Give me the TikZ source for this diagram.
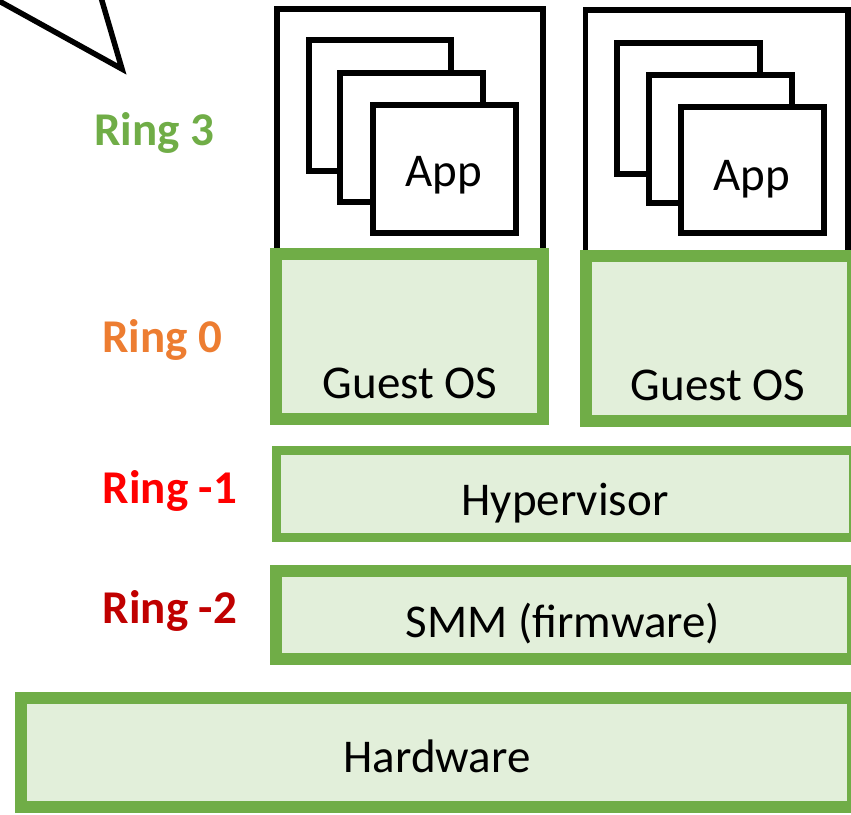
\documentclass[tikz,border=0pt]{standalone}
\usepackage{fontspec}
\setmainfont{Carlito}
\definecolor{ggreen}{HTML}{70AD47}
\definecolor{gfill}{HTML}{E2EFDA}
\definecolor{rorange}{HTML}{ED7D31}
\definecolor{rred}{HTML}{FF0000}
\definecolor{rdred}{HTML}{C00000}
\begin{document}
\begin{tikzpicture}[x=1pt,y=-1pt,
  greenbox/.style={draw=ggreen,fill=gfill,line width=12pt},
  vmbox/.style={draw=black,fill=white,line width=5.5pt},
  appbox/.style={draw=black,fill=white,line width=5.5pt},
  lbl/.style={font=\fontsize{47}{54}\selectfont,anchor=base,inner sep=0pt},
  ring/.style={font=\fontsize{47}{54}\selectfont\bfseries,anchor=base,inner sep=0pt}]
\useasboundingbox (0,0) rectangle (851,814);
\clip (0,0) rectangle (851,814);
% callout tip
\coordinate (c1) at (-10,-4);
\coordinate (tip) at (122,69);
\coordinate (c2) at (100,-6);
\draw[line width=5.5pt,miter limit=10] (c1) -- (tip) -- (c2);
% VM 1
\draw[vmbox] (277,9) rectangle (543,262);
\draw[appbox] (309,40) rectangle (451,171);
\draw[appbox] (340,73) rectangle (483,202);
\draw[appbox] (373,105) rectangle (516,233);
\node[lbl] (app1) at (444,186) {App};
% VM 2
\draw[vmbox] (585.5,10) rectangle (848,262);
\draw[appbox] (617,43) rectangle (760,174);
\draw[appbox] (649,75) rectangle (792,203);
\draw[appbox] (681,107) rectangle (824,233);
\node[lbl] (app2) at (752,190) {App};
% Guest OS
\draw[greenbox] (276,254) rectangle (543,419);
\node[lbl] (gos1) at (410,398) {Guest OS};
\draw[greenbox] (586,256) rectangle (853,421);
\node[lbl] (gos2) at (718,400) {Guest OS};
% Hypervisor
\draw[greenbox,line width=9pt] (276.5,450.5) rectangle (853,537.5);
\node[lbl] (hyp) at (565,515) {Hypervisor};
% SMM
\draw[greenbox] (276,571) rectangle (853,659);
\node[lbl] (smm) at (563,637) {SMM (firmware)};
% Hardware
\draw[greenbox] (21,698) rectangle (853,807);
\node[lbl] (hw) at (437,772) {Hardware};
% Ring labels
\node[ring,text=ggreen] (r3) at (154,145) {Ring 3};
\node[ring,text=rorange] (r0) at (162,352) {Ring 0};
\node[ring,text=rred] (rm1) at (170,503) {Ring -1};
\node[ring,text=rdred] (rm2) at (170,623) {Ring -2};
\end{tikzpicture}
\end{document}
